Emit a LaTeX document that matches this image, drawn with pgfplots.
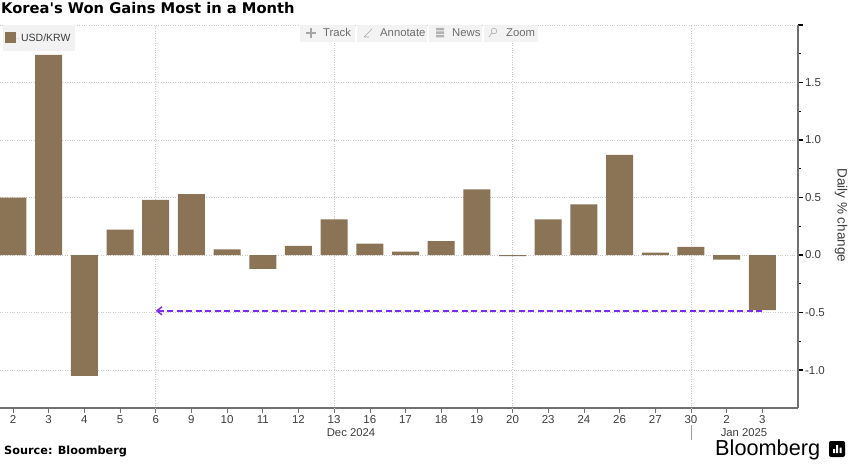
\documentclass[border=0pt]{standalone}
\usepackage{fontspec}
\setmainfont{Liberation Sans}
\newfontfamily\dejavu{DejaVu Sans}
\usepackage{pgfplots}
\pgfplotsset{compat=1.18}
\usetikzlibrary{arrows.meta}
\definecolor{barc}{HTML}{8B7355}
\definecolor{chip}{HTML}{F2F2F2}
\definecolor{txt}{HTML}{3C3C3C}
\definecolor{gridc}{HTML}{C8C8C8}
\definecolor{spine}{HTML}{707070}
\definecolor{arrowc}{HTML}{7B2BF0}
\newcommand{\fs}[1]{\fontsize{#1}{#1}\selectfont}
\begin{document}
\begin{tikzpicture}[x=1pt,y=1pt]
\useasboundingbox (0,0) rectangle (848,463);
\begin{axis}[
    at={(0pt,55pt)}, anchor=south west,
    scale only axis, width=798pt, height=383pt,
    xmin=-0.364, xmax=22, ymin=-1.33, ymax=2,
    axis x line*=bottom, axis y line*=right,
    axis line style={spine,line width=1.1pt,-},
    ybar, bar width=27pt,
    xtick={0,...,21},
    xticklabels={2,3,4,5,6,9,10,11,12,13,16,17,18,19,20,23,24,26,27,30,2,3},
    extra x ticks={4,9,14,19},
    extra x tick labels={},
    extra x tick style={grid=major,major tick length=0pt},
    ytick={-1,-0.5,0,0.5,1,1.5,2},
    yticklabels={-1.0,-0.5,0.0,0.5,1.0,1.5,},
    minor y tick num=1,
    ymajorgrids,
    grid style={gridc,dotted,line width=0.7pt},
    tick align=outside,
    major tick length=5pt, minor tick length=3pt,
    y tick style={black,line width=1.2pt},
    x tick style={spine,line width=0.6pt},
    tick label style={font=\fs{11.5},text=txt},
    /pgf/number format/assume math mode=true,
    x tick label style={yshift=1.5pt,text height=8.5pt,text depth=0pt},
    y tick label style={xshift=-1.5pt},
    ylabel={Daily \% change},
    ylabel style={rotate=180,font=\fs{13.5},text=txt,at={(axis description cs:1.054,0.503)},anchor=center},
    legend style={at={(axis description cs:0.003,1)},anchor=north west,draw=none,fill=chip,
        font=\fs{10.5},text=txt,inner xsep=2.5pt,inner ysep=6.5pt},
    legend cell align=left,
    legend image code/.code={\fill[barc] (0pt,-4.5pt) rectangle (11pt,6.5pt);\path (0pt,0pt)--(14pt,0pt);},
    clip=false,
]
\addplot[fill=barc,draw=none] coordinates {
    (0,0.50) (1,1.74) (2,-1.05) (3,0.22) (4,0.48) (5,0.53)
    (6,0.05) (7,-0.12) (8,0.08) (9,0.31) (10,0.10) (11,0.03)
    (12,0.12) (13,0.57) (14,-0.01) (15,0.31) (16,0.44) (17,0.87)
    (18,0.02) (19,0.07) (20,-0.04) (21,-0.48)
};
\addlegendentry{USD/KRW}
\addplot[sharp plot,forget plot,arrowc,line width=1.5pt,dash pattern=on 6pt off 3.5pt,
    -{Straight Barb[length=5pt,width=8pt]}] coordinates {(21,-0.485) (4,-0.485)};
\end{axis}
% toolbar
\begin{scope}[every node/.style={font=\fs{11.3},text=txt!75,anchor=west,inner sep=0pt}]
\fill[chip,opacity=.92] (300,421) rectangle (355,438);
\fill[chip,opacity=.92] (357,421) rectangle (427,438);
\fill[chip,opacity=.92] (429,421) rectangle (482,438);
\fill[chip,opacity=.92] (484,421) rectangle (538,438);
\node at (323,430.5) {Track};
\node at (380,430.5) {Annotate};
\node at (452,430.5) {News};
\node at (506,430.5) {Zoom};
\draw[gray!70,line width=1.2pt] (306,430)--(316,430) (311,425)--(311,435);
\draw[gray!70,line width=.7pt] (364,426)--(372,434) (364,426)--(369,426);
\fill[gray!60] (436,425.5) rectangle (444,428) (436,429) rectangle (444,431.5) (436,432.5) rectangle (444,435);
\draw[gray!60,line width=.7pt] (494,432) circle (2.8) (492,430)--(489,426);
\end{scope}
% title, footer
\node[anchor=west,inner sep=0pt,font=\dejavu\bfseries\fs{14.7}] at (1,454.5) {Korea's Won Gains Most in a Month};
\node[anchor=west,inner sep=0pt,font=\dejavu\bfseries\fs{11.3}] at (4,11.5) {Source: Bloomberg};
\node[anchor=center,inner sep=0pt,font=\fs{11.3},text=txt] at (351,30.5) {Dec 2024};
\node[anchor=center,inner sep=0pt,font=\fs{11.3},text=txt] at (744,30.5) {Jan 2025};
\draw[gridc!80!black,line width=.7pt] (691,38) -- (691,23);
\node[anchor=west,inner sep=0pt,font=\fs{21.7}] at (715,13.5) {Bloomberg};
\fill[black,rounded corners=2pt] (829,6) rectangle (845,22);
\fill[white] (833,10) rectangle (835,14) (836.2,10) rectangle (838.2,18) (839.6,10) rectangle (841.6,15.5);
\end{tikzpicture}
\end{document}
